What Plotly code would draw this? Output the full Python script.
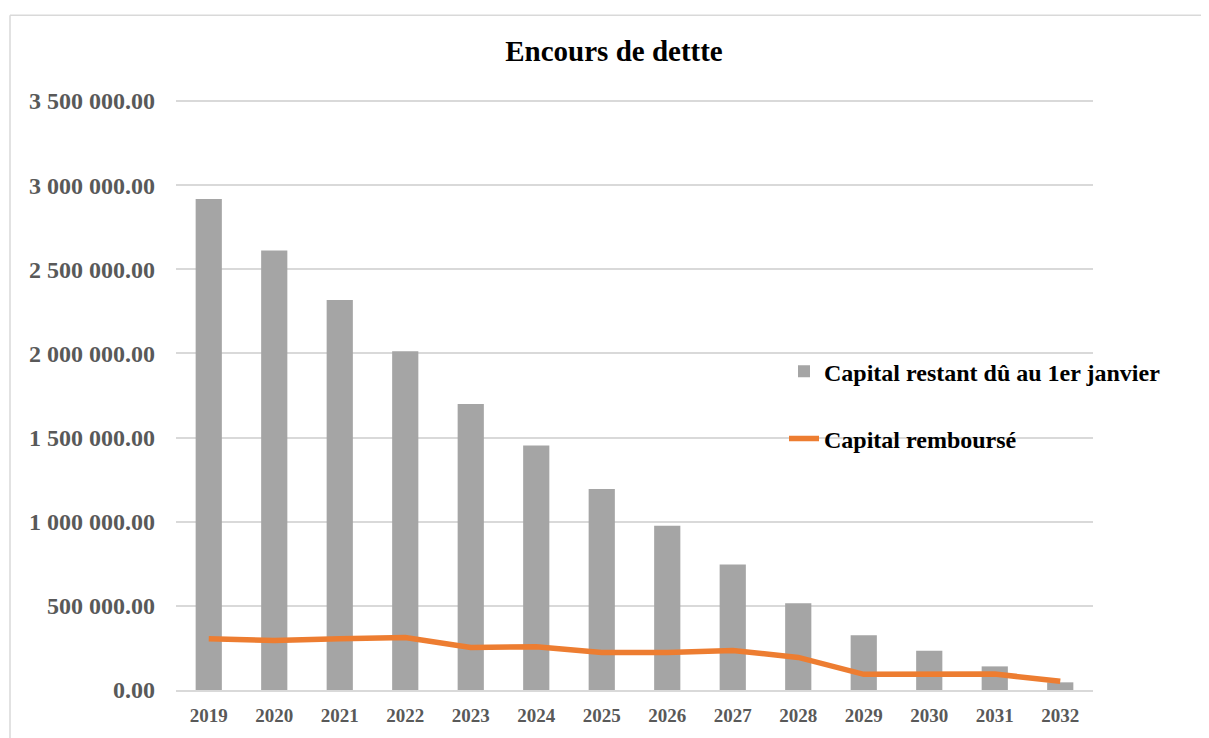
import plotly.graph_objects as go

years = ["2019", "2020", "2021", "2022", "2023", "2024", "2025",
         "2026", "2027", "2028", "2029", "2030", "2031", "2032"]
capital_restant = [2917800, 2611600, 2317300, 2013500, 1699600, 1452700, 1194500,
                   975300, 746200, 515200, 325700, 232700, 140300, 45600]
capital_rembourse = [303800, 294300, 303800, 312100, 252900, 256400, 223300,
                     223300, 235100, 193600, 93000, 93000, 94800, 51500]

FONT = "Times New Roman, Liberation Serif, serif"

# page body has an 8px margin: figure drawn at (8, 8)
OFF = 8
EXTRA = 3  # px of headroom above the 3 500 000 gridline so it is drawn
YMAX = 3500000 + EXTRA * 3500000 / 591
W, H = 1209 - OFF, 738 - OFF
L, R, T, B = 176 - OFF, 1209 - 1093, 101 - EXTRA - OFF, 738 - 692
PW, PH = W - L - R, H - T - B


def px_x(x):
    return (x - OFF - L) / PW


def px_y(y):
    return (H - B - (y - OFF)) / PH


fig = go.Figure()
fig.add_trace(go.Bar(
    x=years, y=capital_restant, name="Capital restant dû au 1er janvier",
    marker=dict(color="#A5A5A5", line=dict(width=0)),
    legendgroup="a",
))
fig.add_trace(go.Scatter(
    x=years, y=capital_rembourse, name="Capital remboursé", mode="lines",
    line=dict(color="#ED7D31", width=5.5),
    legendgroup="b",
))

fig.update_layout(
    width=W, height=H,
    margin=dict(l=L, r=R, t=T, b=B),
    paper_bgcolor="white", plot_bgcolor="white",
    separators=". ",
    bargap=0.6,
    title=dict(text="Encours de dettte", x=(614 - OFF) / W, xanchor="center",
               y=1 - (51 - OFF) / H, yanchor="middle",
               font=dict(family=FONT, size=29, color="black", weight="bold")),
    legend=dict(x=px_x(766) + 0.012 + 7 / PW, xanchor="left", y=px_y(350), yanchor="top",
                bgcolor="rgba(0,0,0,0)", tracegroupgap=33,
                font=dict(family=FONT, size=24, color="black", weight="bold")),
    showlegend=True,
    xaxis=dict(showgrid=False, showline=True, linecolor="#D9D9D9", linewidth=1.5,
               ticks="", ticklabelstandoff=7,
               tickfont=dict(family=FONT, size=19, color="#595959", weight="bold")),
    yaxis=dict(range=[0, YMAX], tickvals=[0, 500000, 1000000, 1500000, 2000000,
                                          2500000, 3000000, 3500000],
               tickformat=",.2f",
               showgrid=True, gridcolor="#D9D9D9", gridwidth=1.5,
               zeroline=False, showline=False, ticks="", ticklabelstandoff=20,
               tickfont=dict(family=FONT, size=24, color="#595959", weight="bold")),
    shapes=[
        dict(type="line", xref="paper", yref="paper",
             x0=px_x(10), x1=px_x(1208), y0=px_y(15), y1=px_y(15),
             line=dict(color="#D9D9D9", width=1.5)),
        dict(type="line", xref="paper", yref="paper",
             x0=px_x(10), x1=px_x(10), y0=px_y(15), y1=px_y(745),
             line=dict(color="#D9D9D9", width=1.5)),
    ],
)

fig.write_html("out.html")
